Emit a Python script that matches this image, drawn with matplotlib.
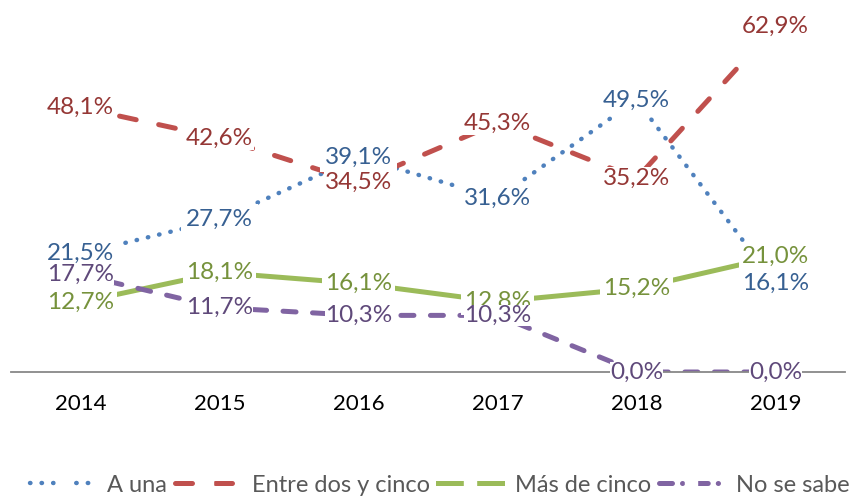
import numpy as np
import matplotlib
matplotlib.use('Agg')
import matplotlib.pyplot as plt
from matplotlib.lines import Line2D
from matplotlib import rcParams

rcParams['font.family'] = ['Lato', 'DejaVu Sans']
rcParams['font.size'] = 16

# data (percent)
years = ['2014', '2015', '2016', '2017', '2018', '2019']
a_una = [21.5, 27.7, 39.1, 31.6, 49.5, 16.1]
entre_dos_y_cinco = [48.1, 42.6, 34.5, 45.3, 35.2, 62.9]
mas_de_cinco = [12.7, 18.1, 16.1, 12.8, 15.2, 21.0]
no_se_sabe = [17.7, 11.7, 10.3, 10.3, 0.0, 0.0]
series_names = ['A una', 'Entre dos y cinco', 'Más de cinco', 'No se sabe']

line_colors = ['#4F81BD', '#C0504D', '#9BBB59', '#8064A2']
label_colors = ['#376092', '#953735', '#76923C', '#5F497A']
styles = [(0, (0.1, 2.5)), (0, (3.4, 4.6)), '-', (0, (2.6, 3.3))]
legend_styles = [(0, (0.1, 2.5)), (0, (3.4, 4.6)), '-', (0, (2.6, 2.0, 0.05, 2.5))]
widths = [3.2, 3.6, 3.6, 3.6]
label_pads = [0.2, 0.05, 0.12, 0.0]

all_series = [a_una, entre_dos_y_cinco, mas_de_cinco, no_se_sabe]
x = np.arange(len(years))

fig = plt.figure(figsize=(8.66, 4.97), dpi=100)
ax = fig.add_axes([11/866, 125/497, 834/866, 310/497])

for vals, c, ls, lw in zip(all_series, line_colors, styles, widths):
    ax.plot(x, vals, color=c, linestyle=ls, linewidth=lw,
            dash_capstyle='round', solid_capstyle='butt', zorder=2, clip_on=True)

for vals, c, pad in zip(all_series, label_colors, label_pads):
    for xi, v in zip(x, vals):
        txt = ('%.1f%%' % v).replace('.', ',')
        ax.text(xi, v, txt, ha='center', va='center', color=c, fontsize=17.5,
                bbox=dict(boxstyle='square,pad=%s' % pad, fc='white', ec='none'),
                zorder=5, clip_on=False)

ax.set_xlim(-0.5, 5.5)
ax.set_ylim(0, 56.4)
ax.set_xticks(x)
ax.set_xticklabels(years)
ax.set_yticks([])
ax.tick_params(axis='x', length=0, pad=16, labelsize=16, labelcolor='black')
for side in ['top', 'left', 'right']:
    ax.spines[side].set_visible(False)
ax.spines['bottom'].set_color('#888888')
ax.spines['bottom'].set_linewidth(1.3)
ax.patch.set_alpha(0)

# legend handles with the little white gap Excel leaves in the middle
handles = []
for c, ls, lw in zip(line_colors, legend_styles, widths):
    handles.append(Line2D([0], [0], color=c, linestyle=ls, linewidth=lw,
                          dash_capstyle='round', marker='s', markersize=9,
                          markerfacecolor='white', markeredgecolor='white'))

fig.legend(handles, series_names, loc='center left',
           bbox_to_anchor=(30/866, 1 - 485/497), ncol=4, frameon=False,
           fontsize=17, handlelength=2.7, handletextpad=0.55, columnspacing=0.35,
           borderpad=0, borderaxespad=0, labelcolor='#595959', numpoints=1)

fig.savefig('out.png', dpi=100)
